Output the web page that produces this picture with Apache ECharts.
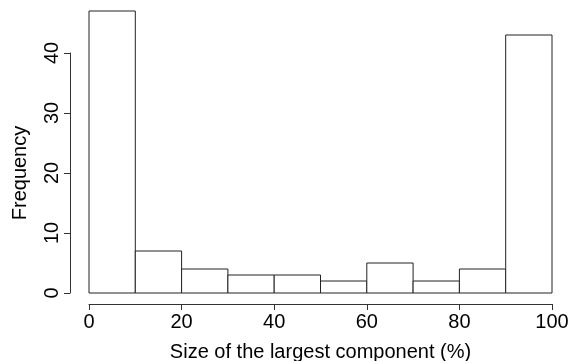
<!DOCTYPE html>
<html>
<head>
<meta charset="utf-8">
<script src="https://cdn.jsdelivr.net/npm/echarts@6/dist/echarts.min.js"></script>
<style>html,body{margin:0;padding:0;background:#fff;}#c{width:568px;height:361px;}</style>
</head>
<body>
<div id="c"></div>
<script>
const binStarts = [0, 10, 20, 30, 40, 50, 60, 70, 80, 90];
const binEnds = [10, 20, 30, 40, 50, 60, 70, 80, 90, 100];
const counts = [47, 7, 4, 3, 3, 2, 5, 2, 4, 43];
const xTicks = [0, 20, 40, 60, 80, 100];
const yTicks = [0, 10, 20, 30, 40];

const FONT = "'Liberation Sans', Arial, Helvetica, sans-serif";
const AX = '#333';
const data = binStarts.map((s, i) => [s, binEnds[i], counts[i]]);

const chart = echarts.init(document.getElementById('c'), null, {renderer: 'canvas'});
chart.setOption({
  animation: false,
  backgroundColor: '#fff',
  grid: [
    {left: 89, right: 16, top: 5, bottom: 68, containLabel: false, outerBoundsMode: 'none'},
    {left: 89, right: 16, top: 53, bottom: 68, containLabel: false, outerBoundsMode: 'none'}
  ],
  xAxis: [
    {
      gridIndex: 0, type: 'value', min: xTicks[0], max: xTicks[xTicks.length - 1], interval: 20,
      offset: 11,
      name: 'Size of the largest component (%)', nameLocation: 'middle', nameGap: 38,
      nameTextStyle: {fontFamily: FONT, fontSize: 20, color: '#000'},
      axisLine: {show: true, onZero: false, lineStyle: {color: AX, width: 1}},
      axisTick: {show: true, length: 6, lineStyle: {color: AX}},
      axisLabel: {fontFamily: FONT, fontSize: 20, color: '#000', margin: 8},
      splitLine: {show: false}
    },
    {gridIndex: 1, type: 'value', min: 0, max: 100, show: false}
  ],
  yAxis: [
    {gridIndex: 0, type: 'value', min: 0, max: 48, show: false, splitLine: {show: false}},
    {
      gridIndex: 1, type: 'value', min: yTicks[0], max: yTicks[yTicks.length - 1], interval: 10,
      offset: 19,
      name: 'Frequency', nameLocation: 'middle', nameGap: 40, nameRotate: 90,
      nameTextStyle: {fontFamily: FONT, fontSize: 20, color: '#000'},
      axisLine: {show: true, onZero: false, lineStyle: {color: AX, width: 1}},
      axisTick: {show: true, length: 6, lineStyle: {color: AX}},
      axisLabel: {fontFamily: FONT, fontSize: 20, color: '#000', rotate: 90, margin: 8},
      splitLine: {show: false}
    }
  ],
  series: [{
    type: 'custom',
    xAxisIndex: 0, yAxisIndex: 0,
    data: data,
    encode: {x: [0, 1], y: 2},
    renderItem: function (params, api) {
      const p0 = api.coord([api.value(0), 0]);
      const p1 = api.coord([api.value(1), api.value(2)]);
      return {
        type: 'rect',
        shape: {x: p0[0], y: p1[1], width: p1[0] - p0[0], height: p0[1] - p1[1]},
        style: {fill: '#fff', stroke: '#222', lineWidth: 1}
      };
    }
  }]
});
</script>
</body>
</html>
